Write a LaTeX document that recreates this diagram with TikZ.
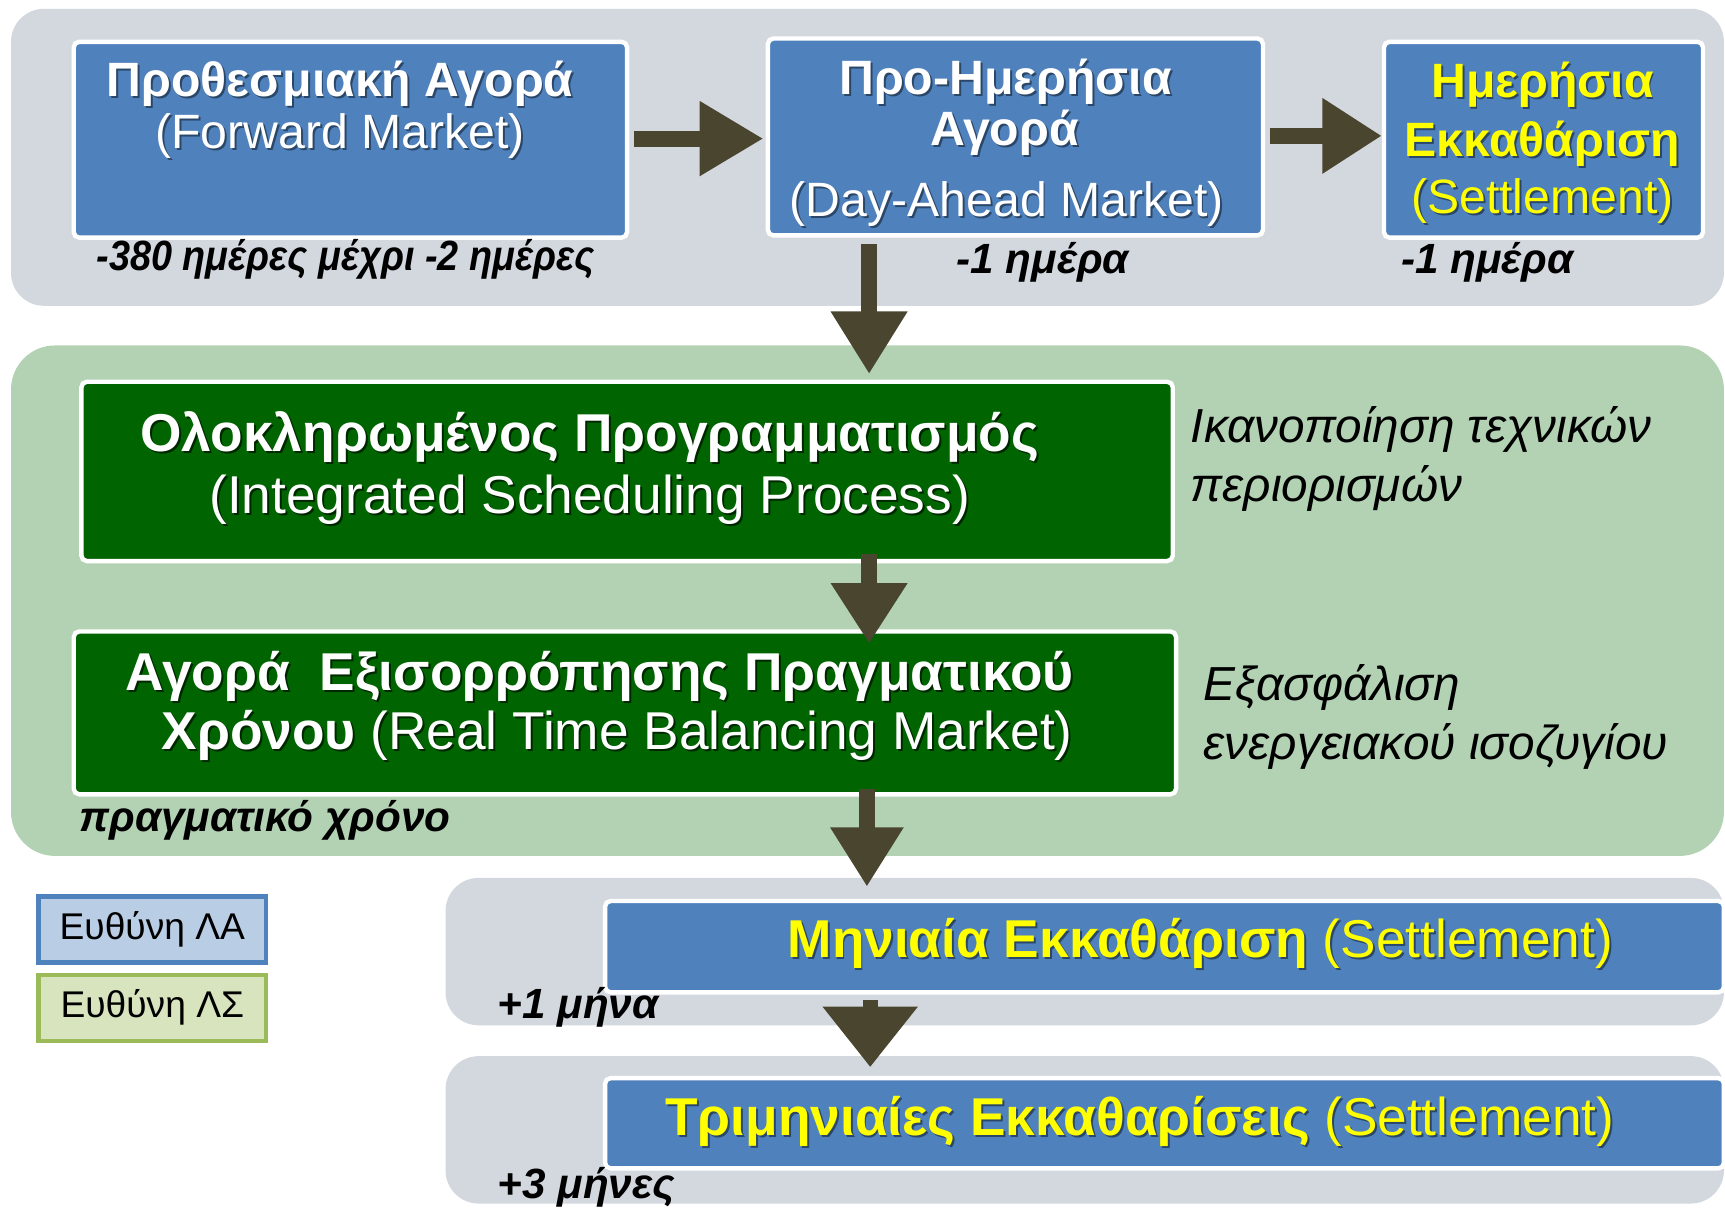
\documentclass[tikz,border=0pt]{standalone}
\usepackage{fontspec}
\setmainfont{Liberation Sans}
\usetikzlibrary{arrows.meta,calc}
\definecolor{panelgray}{HTML}{D3D8DF}
\definecolor{panelgreen}{HTML}{B3D2B4}
\definecolor{boxblue}{HTML}{4F81BD}
\definecolor{boxgreen}{HTML}{006400}
\definecolor{arrowc}{HTML}{4A452E}
\definecolor{legblue}{HTML}{B9CDE5}
\definecolor{leggreen}{HTML}{D7E4BD}
\definecolor{leggreenb}{HTML}{9BBB59}
\definecolor{ylw}{HTML}{FFFF00}
\colorlet{shblue}{boxblue!55!black}
\colorlet{shgreen}{boxgreen!40!black}
\def\shc{shblue}
\newcommand\shd[1]{\leavevmode\rlap{\kern0.9pt\raisebox{-0.9pt}{\color{\shc}#1}}{#1}}
\begin{document}
\begin{tikzpicture}[x=0.5pt,y=-0.5pt,
  box/.style={draw=white, line width=2pt, rounded corners=2.5pt, inner sep=0, anchor=north west},
  bluebox/.style={box, fill=boxblue},
  greenbox/.style={box, fill=boxgreen},
  legbox/.style={line width=2pt, inner sep=0, anchor=north west, minimum width=103.5pt, minimum height=30pt, font=\fontsize{16.9}{20}\selectfont},
  txt/.style={inner sep=0, anchor=base},
  ttl/.style={txt, text=white, font=\fontsize{21.9}{25}\selectfont\bfseries},
  sub/.style={txt, text=white, font=\fontsize{21.9}{25}\selectfont},
  gttl/.style={txt, text=white, font=\fontsize{24.2}{28}\selectfont\def\shc{shgreen}},
  sttl/.style={txt, text=ylw, font=\fontsize{24.2}{28}\selectfont},
  note/.style={txt, anchor=base west, font=\fontsize{21.7}{26}\selectfont\itshape},
  lbl/.style={txt, font=\fontsize{19.2}{22}\selectfont\bfseries\itshape},
  arr/.style={draw=arrowc, line width=7.25pt}
]
\useasboundingbox (0,0) rectangle (1568,1102);
\clip (0,0) rectangle (1568,1102);
% panels
\fill[panelgray, rounded corners=15pt] (10,8) rectangle (1567,278);
\fill[panelgreen, rounded corners=20pt] (10,314) rectangle (1567,778);
\fill[panelgray, rounded corners=15pt] (405,798) rectangle (1567,932);
\fill[panelgray, rounded corners=15pt] (405,960) rectangle (1567,1094);
% boxes
\node[bluebox, minimum width=251.5pt, minimum height=89pt] (fwd) at (65,36) {};
\node[bluebox, minimum width=225pt, minimum height=89.5pt] (da) at (696,33) {};
\node[bluebox, minimum width=145pt, minimum height=89pt] (dset) at (1256,36) {};
\node[greenbox, minimum width=496pt, minimum height=81.5pt] (isp) at (72,345) {};
\node[greenbox, minimum width=501pt, minimum height=74pt] (rtbm) at (65,572) {};
\node[bluebox, minimum width=508.5pt, minimum height=41.5pt] (mset) at (548,817) {};
\node[bluebox, minimum width=508.5pt, minimum height=41pt] (qset) at (548,978) {};
% box texts
\node[ttl] (fwd1) at (309,88) {\shd{Προθεσμιακή Αγορά}};
\node[sub] (fwd2) at (309,135) {\shd{(Forward Market)}};
\node[ttl] (da1) at (914,86) {\shd{Προ-Ημερήσια}};
\node[ttl] (da2) at (913,132) {\shd{Αγορά}};
\node[sub] (da3) at (915,197) {\shd{(Day-Ahead Market)}};
\node[ttl, text=ylw] (ds1) at (1402,89) {\shd{Ημερήσια}};
\node[ttl, text=ylw] (ds2) at (1402,142) {\shd{Εκκαθάριση}};
\node[sub, text=ylw] (ds3) at (1402,194) {\shd{(Settlement)}};
\node[gttl] (isp1) at (536,410) {\shd{\bfseries Ολοκληρωμένος Προγραμματισμός}};
\node[gttl] (isp2) at (536,467) {\shd{(Integrated Scheduling Process)}};
\node[gttl] (rt1) at (545,628) {\shd{\bfseries Αγορά\ \ Εξισορρόπησης Πραγματικού}};
\node[gttl] (rt2) at (561,681) {\shd{\bfseries Χρόνου} \shd{(Real Time Balancing Market)}};
\node[sttl] (ms1) at (1091,870) {\shd{\bfseries Μηνιαία Εκκαθάριση} \shd{(Settlement)}};
\node[sttl] (qs1) at (1036,1032) {\shd{\bfseries Τριμηνιαίες Εκκαθαρίσεις} \shd{(Settlement)}};
% labels
\node[lbl] (l1) at (314,246) {\scalebox{0.895}[1]{-380 ημέρες μέχρι -2 ημέρες}};
\node[lbl] (l2) at (948,249) {-1 ημέρα};
\node[lbl] (l3) at (1352,249) {-1 ημέρα};
\node[lbl, anchor=base west] (l4) at (72,756) {πραγματικό χρόνο};
\node[lbl, anchor=base west] (l5) at (452,926) {+1 μήνα};
\node[lbl, anchor=base west] (l6) at (452,1089) {+3 μήνες};
\node[note] (n1) at (1082,402) {Ικανοποίηση τεχνικών};
\node[note] (n2) at (1082,456) {περιορισμών};
\node[note] (n3) at (1094,637) {Εξασφάλιση};
\node[note] (n4) at (1094,690) {ενεργειακού ισοζυγίου};
% legend
\node[legbox, draw=boxblue, fill=legblue] (legA) at (33,813) {Ευθύνη ΛΑ};
\node[legbox, draw=leggreenb, fill=leggreen] (legS) at (33,884) {Ευθύνη ΛΣ};
% arrows
\coordinate (spine) at (790,0);
\draw[arr, -{Triangle[length=29pt,width=32pt]}] ($(fwd.east)+(4,-1)$) -- ($(fwd.east -| da.west)+(-2,-1)$);
\draw[arr, line width=7pt, -{Triangle[length=27pt,width=32.5pt]}] ($(da.east)+(4,-1)$) -- ($(da.east -| dset.west)+(0,-1)$);
\draw[arr, line width=7pt, -{Triangle[length=28.5pt,width=33pt]}] ($(da.south -| spine)+(0,6)$) -- ($(isp.north -| spine)+(0,-5)$);
\draw[arr, line width=7pt, -{Triangle[length=27.5pt,width=33pt]}] ($(isp.south -| spine)+(0,-8)$) -- ($(rtbm.north -| spine)+(0,13)$);
\draw[arr, line width=7pt, -{Triangle[length=27pt,width=31.5pt]}] ($(rtbm.south -| spine)+(-2,-7)$) -- ($(mset.north -| spine)+(-2,-11)$);
\draw[arr, line width=7pt, -{Triangle[length=27.5pt,width=41.5pt]}] ($(mset.south -| spine)+(1,5)$) -- ($(qset.north -| spine)+(1,-8)$);
\end{tikzpicture}
\end{document}
